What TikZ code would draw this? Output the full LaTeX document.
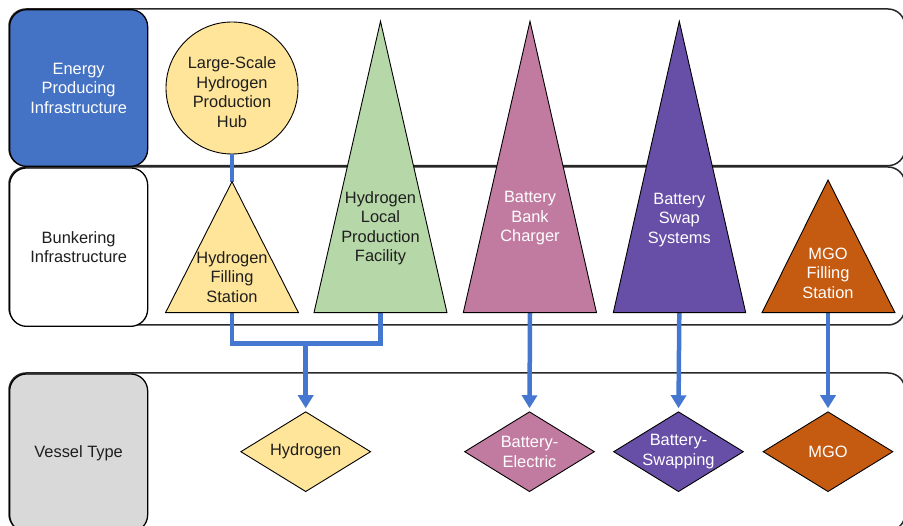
\documentclass[tikz,border=0pt]{standalone}
\usepackage{fontspec}
\setmainfont{Liberation Sans}
\usetikzlibrary{arrows.meta,shapes.geometric}

\definecolor{hdrblue}{RGB}{68,114,196}
\definecolor{flowblue}{RGB}{70,119,208}
\definecolor{hdrgray}{RGB}{217,217,217}
\definecolor{h2yellow}{RGB}{255,229,153}
\definecolor{h2green}{RGB}{182,215,168}
\definecolor{battpink}{RGB}{194,123,160}
\definecolor{battpurple}{RGB}{103,78,167}
\definecolor{mgoorange}{RGB}{197,90,17}
\definecolor{laneline}{RGB}{40,40,40}
\definecolor{ink}{RGB}{30,30,30}

\begin{document}
\begin{tikzpicture}[x=1pt,y=-1pt,
  lane/.style={draw=laneline, line width=1.5pt, rounded corners=17pt},
  header/.style={draw=black, line width=1.3pt, rounded corners=17pt,
    minimum width=138pt, anchor=north west, inner sep=0pt,
    align=center, font=\fontsize{16.4}{19.5}\selectfont, text=ink},
  txt/.style={align=center, font=\fontsize{16.4}{19.5}\selectfont, text=ink, inner sep=0pt},
  wtxt/.style={txt, text=white},
  shapeline/.style={draw=black, line width=0.9pt, line join=miter},
  vessel/.style={diamond, shapeline, minimum width=130pt, minimum height=80pt, inner sep=0pt},
  feed/.style={draw=flowblue, line width=4.5pt, line join=miter},
  feedarrow/.style={feed, -{Triangle[width=15pt,length=13pt]}, shorten >=3pt},
]
\useasboundingbox (0,0) rectangle (903,526);
\clip (0,0) rectangle (903,526);
\fill[white] (0,0) rectangle (903,526);

% swim lanes
\draw[lane] (9,9) rectangle (905,165.7);
\draw[lane] (9,167) rectangle (905,325);
\draw[lane] (9,373) rectangle (905,531);

% lane headers
\node[header, fill=hdrblue, text=white, minimum height=156.7pt] (hEnergy) at (9,9)
  {Energy\\Producing\\Infrastructure};
\node[header, fill=white, minimum height=158.4pt] (hBunker) at (9,167.3)
  {Bunkering\\Infrastructure};
\node[header, fill=hdrgray, minimum height=158pt] (hVessel) at (9,373.3)
  {Vessel Type};

% production hub
\node[circle, shapeline, fill=h2yellow, minimum size=132pt, inner sep=0pt] (hub) at (232,88) {};
\node[txt] (hubLabel) at (232,92) {Large-Scale\\Hydrogen\\Production\\Hub};

% triangle apexes and base centres
\coordinate (hfsTop)  at (232,181.7);   \coordinate (hfsBot)  at (232,312.7);
\coordinate (hlpfTop) at (380.5,21.3);  \coordinate (hlpfBot) at (380.5,312.7);
\coordinate (bbcTop)  at (530,21.3);    \coordinate (bbcBot)  at (530,312.7);
\coordinate (bssTop)  at (679.3,21.3);  \coordinate (bssBot)  at (679.3,312.7);
\coordinate (mgoTop)  at (828,180);     \coordinate (mgoBot)  at (828,312.7);
\coordinate (h2join)  at (305.7,343.3);

% vessel types
\node[vessel, fill=h2yellow]   (vH2)  at (305.7,451.7) {};
\node[vessel, fill=battpink]   (vBE)  at (529.5,451.7) {};
\node[vessel, fill=battpurple] (vBS)  at (678.5,451.7) {};
\node[vessel, fill=mgoorange]  (vMGO) at (828,451.7) {};

% connectors
\draw[feed] (hub.south) -- (hfsTop);
\draw[feed] (hfsBot) |- (h2join) -| (hlpfBot);
\draw[feedarrow] (h2join) -- (vH2.north);
\draw[feedarrow] (bbcBot) -- (vBE.north);
\draw[feedarrow] (bssBot) -- (vBS.north);
\draw[feedarrow] (mgoBot) -- (vMGO.north);

% bunkering and production triangles
\filldraw[shapeline, fill=h2yellow]   (hfsTop)  -- (298.5,312.7) -- (165.5,312.7) -- cycle;
\filldraw[shapeline, fill=h2green]    (hlpfTop) -- (447,312.7)   -- (314,312.7)   -- cycle;
\filldraw[shapeline, fill=battpink]   (bbcTop)  -- (596.5,312.7) -- (463.3,312.7) -- cycle;
\filldraw[shapeline, fill=battpurple] (bssTop)  -- (745.7,312.7) -- (613.3,312.7) -- cycle;
\filldraw[shapeline, fill=mgoorange]  (mgoTop)  -- (895,312.7)   -- (762,312.7)   -- cycle;

% triangle labels
\node[txt]  (hfsLabel)  at (232,277)     {Hydrogen\\Filling\\Station};
\node[txt]  (hlpfLabel) at (380.5,228.5) {Hydrogen\\Local\\Production\\Facility};
\node[wtxt] (bbcLabel)  at (530,218.5)   {Battery\\Bank\\Charger};
\node[wtxt] (bssLabel)  at (679.3,220)   {Battery\\Swap\\Systems};
\node[wtxt] (mgoLabel)  at (828,273)     {MGO\\Filling\\Station};

% vessel labels
\node[txt]  at (vH2)  {Hydrogen};
\node[wtxt] at (vBE)  {Battery-\\Electric};
\node[wtxt] at (vBS)  {Battery-\\Swapping};
\node[wtxt] at (vMGO) {MGO};
\end{tikzpicture}
\end{document}
